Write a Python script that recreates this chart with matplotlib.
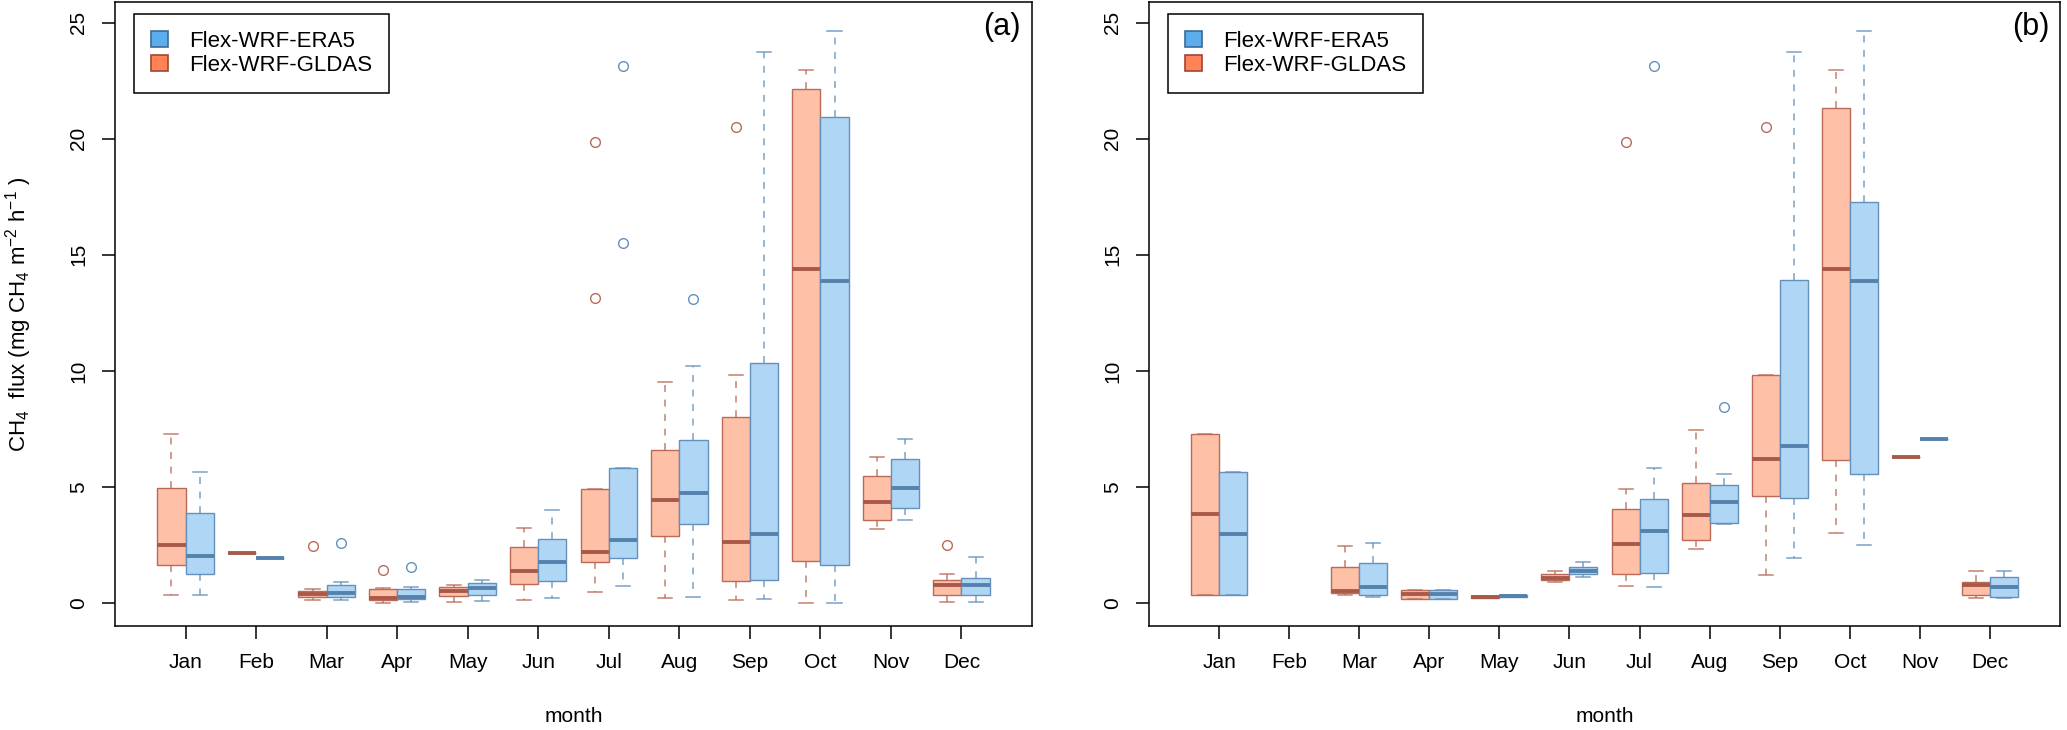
import matplotlib
matplotlib.use("Agg")
import matplotlib.pyplot as plt
from matplotlib.patches import Patch

plt.rcParams['font.family'] = 'Liberation Sans'
plt.rcParams['mathtext.fontset'] = 'custom'
plt.rcParams['mathtext.rm'] = 'Liberation Sans'
plt.rcParams['mathtext.it'] = 'Liberation Sans'

months = ['Jan', 'Feb', 'Mar', 'Apr', 'May', 'Jun',
          'Jul', 'Aug', 'Sep', 'Oct', 'Nov', 'Dec']

# each row: whisker low, q1, median, q3, whisker high
a_gldas = [
    [0.34, 1.62, 2.51, 4.97, 7.27],
    [2.13, 2.13, 2.13, 2.13, 2.13],
    [0.14, 0.24, 0.40, 0.52, 0.60],
    [0.00, 0.14, 0.19, 0.60, 0.65],
    [0.04, 0.30, 0.52, 0.70, 0.78],
    [0.14, 0.83, 1.39, 2.39, 3.23],
    [0.46, 1.74, 2.18, 4.89, 4.89],
    [0.20, 2.89, 4.45, 6.59, 9.50],
    [0.11, 0.95, 2.60, 8.03, 9.83],
    [0.00, 1.80, 14.38, 22.14, 22.95],
    [3.16, 3.58, 4.34, 5.47, 6.28],
    [0.04, 0.34, 0.78, 0.98, 1.26],
]
a_gldas_out = {3: [2.44], 4: [1.42], 7: [13.12, 19.88], 9: [20.5], 12: [2.51]}

a_era5 = [
    [0.34, 1.26, 2.01, 3.88, 5.63],
    [1.94, 1.94, 1.94, 1.94, 1.94],
    [0.14, 0.24, 0.43, 0.75, 0.91],
    [0.04, 0.16, 0.26, 0.60, 0.70],
    [0.07, 0.33, 0.62, 0.85, 0.99],
    [0.20, 0.95, 1.78, 2.76, 4.01],
    [0.73, 1.95, 2.69, 5.79, 5.79],
    [0.26, 3.39, 4.74, 7.01, 10.19],
    [0.17, 0.98, 2.95, 10.34, 23.73],
    [0.00, 1.62, 13.89, 20.95, 24.65],
    [3.59, 4.07, 4.96, 6.21, 7.04],
    [0.03, 0.34, 0.75, 1.08, 1.98],
]
a_era5_out = {3: [2.56], 4: [1.54], 7: [15.53, 23.15], 8: [13.08]}

b_gldas = [
    [0.34, 0.34, 3.81, 7.27, 7.27],
    None,
    [0.33, 0.42, 0.52, 1.54, 2.44],
    [0.17, 0.17, 0.40, 0.57, 0.57],
    [0.19, 0.19, 0.23, 0.29, 0.29],
    [0.88, 0.98, 1.09, 1.22, 1.38],
    [0.73, 1.24, 2.53, 4.05, 4.89],
    [2.30, 2.72, 3.79, 5.16, 7.43],
    [1.21, 4.60, 6.22, 9.83, 9.83],
    [3.03, 6.15, 14.38, 21.32, 22.95],
    [6.28, 6.28, 6.28, 6.28, 6.28],
    [0.20, 0.33, 0.75, 0.89, 1.38],
]
b_gldas_out = {7: [19.88], 9: [20.5]}

b_era5 = [
    [0.34, 0.34, 2.97, 5.63, 5.63],
    None,
    [0.27, 0.33, 0.69, 1.72, 2.57],
    [0.17, 0.17, 0.40, 0.55, 0.55],
    [0.27, 0.27, 0.30, 0.33, 0.33],
    [1.12, 1.24, 1.38, 1.55, 1.77],
    [0.70, 1.30, 3.09, 4.47, 5.80],
    [3.39, 3.45, 4.34, 5.09, 5.57],
    [1.93, 4.51, 6.78, 13.92, 23.73],
    [2.50, 5.57, 13.89, 17.29, 24.65],
    [7.04, 7.04, 7.04, 7.04, 7.04],
    [0.22, 0.27, 0.69, 1.12, 1.38],
]
b_era5_out = {7: [23.15], 8: [8.43]}

gl_fill, gl_edge, gl_med = '#FFC0A8', '#BA6A58', '#A9594A'
er_fill, er_edge, er_med = '#B0D6F5', '#6490BC', '#5582AC'


def draw_series(ax, rows, outl, offset, fill, edge, med):
    stats, pos = [], []
    for i, r in enumerate(rows):
        if r is None:
            continue
        m = i + 1
        stats.append(dict(whislo=r[0], q1=r[1], med=r[2], q3=r[3], whishi=r[4],
                          fliers=outl.get(m, [])))
        pos.append(m + offset)
    ax.bxp(stats, positions=pos, widths=0.4, patch_artist=True,
           boxprops=dict(facecolor=fill, edgecolor=edge, linewidth=1.0),
           medianprops=dict(color=med, linewidth=2.8, solid_capstyle='butt'),
           whiskerprops=dict(color=edge, linewidth=1.1, linestyle=(0, (4.5, 5)), alpha=0.85),
           capprops=dict(color=edge, linewidth=1.1, alpha=0.85),
           flierprops=dict(marker='o', markerfacecolor='none', markeredgecolor=edge,
                           markersize=7, markeredgewidth=1.0))


fig = plt.figure(figsize=(20.67, 7.3), dpi=100)
ax1 = fig.add_axes([0.05564, 0.14247, 0.44364, 0.85479])
ax2 = fig.add_axes([0.55588, 0.14247, 0.44073, 0.85479])

panels = [(ax1, a_gldas, a_gldas_out, a_era5, a_era5_out, '(a)'),
          (ax2, b_gldas, b_gldas_out, b_era5, b_era5_out, '(b)')]

for ax, g, go, e, eo, tag in panels:
    draw_series(ax, g, go, -0.2, gl_fill, gl_edge, gl_med)
    draw_series(ax, e, eo, 0.2, er_fill, er_edge, er_med)
    ax.set_xlim(0, 13)
    ax.set_ylim(-1.0, 25.9)
    ax.set_xticks(range(1, 13))
    ax.set_xticklabels(months)
    ax.set_yticks([0, 5, 10, 15, 20, 25])
    ax.tick_params(direction='out', length=9.4, width=1.1, labelsize=15, pad=10)
    ax.tick_params(axis='y', labelrotation=90)
    for lab in ax.get_yticklabels():
        lab.set_va('center')
    for s in ax.spines.values():
        s.set_linewidth(1.1)
    ax.set_xlabel('month', fontsize=15)
    ax.xaxis.set_label_coords(0.5, -0.13)
    ax.text(0.988, 0.96, tag, transform=ax.transAxes, ha='right', va='center', fontsize=22)
    handles = [Patch(facecolor='#5DADEC', edgecolor='#3B6C98', linewidth=1.2, label='Flex-WRF-ERA5'),
               Patch(facecolor='#FF8356', edgecolor='#A0443A', linewidth=1.2, label='Flex-WRF-GLDAS')]
    leg = ax.legend(handles=handles, loc='upper left', bbox_to_anchor=(0.0207, 0.981),
                    borderaxespad=0, fontsize=16, fancybox=False, edgecolor='black',
                    framealpha=1, handlelength=0.77, handleheight=0.77,
                    handletextpad=0.95, labelspacing=0.15, borderpad=0.75)
    leg.get_frame().set_linewidth(1.1)

ax1.set_ylabel(r'CH$_4$  flux (mg CH$_4$ m$^{-2}$ h$^{-1}$ )', fontsize=16)
ax1.yaxis.set_label_coords(-0.088, 0.5)

fig.savefig('out.png', dpi=100)
